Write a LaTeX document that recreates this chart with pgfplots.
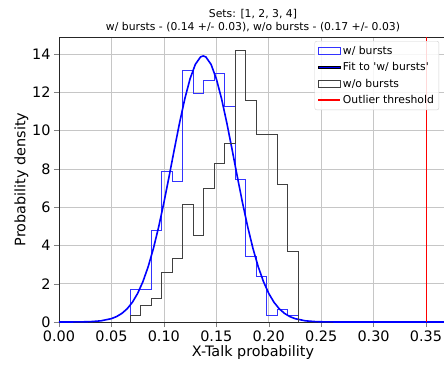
\documentclass[border=0pt]{standalone}
\usepackage{pgfplots}
\pgfplotsset{compat=1.18}
\usepackage{fontspec}
\setmainfont{DejaVu Sans}
\begin{document}
\begin{tikzpicture}
\begin{axis}[
  scale only axis,
  width=388pt, height=285pt,
  xmin=0, xmax=0.37, ymin=0, ymax=14.89,
  xtick={0,0.05,0.1,0.15,0.2,0.25,0.3,0.35},
  ytick={0,2,4,6,8,10,12,14},
  xticklabel style={/pgf/number format/.cd,fixed,fixed zerofill,precision=2},
  /pgf/number format/assume math mode=true,
  tick label style={font=\fontsize{14.4}{16}\selectfont},
  label style={font=\fontsize{14.4}{16}\selectfont},
  xlabel={X-Talk probability},
  ylabel={Probability density},
  xlabel style={yshift=3pt},
  ylabel style={yshift=-3pt},
  grid=major,
  grid style={gray!45, line width=0.7pt},
  tick align=outside, tick pos=left,
  major tick length=5pt,
  axis line style={black!85, line width=0.8pt},
  title style={font=\fontsize{10.8}{13}\selectfont, align=center, yshift=-4pt},
  title={Sets: [1, 2, 3, 4]\\w/ bursts - (0.14 +/- 0.03), w/o bursts - (0.17 +/- 0.03)},
  legend style={at={(axis cs:0.3625,14.68)}, anchor=north east,
    font=\fontsize{10.8}{13}\selectfont, draw=gray!35, rounded corners=2pt,
    fill=white, fill opacity=0.85, text opacity=1, draw opacity=1, row sep=2.6pt,
    inner sep=3pt},
  legend cell align=left,
]
\addlegendimage{legend image code/.code={\draw[draw=blue!80,line width=0.9pt,sharp corners] (0pt,-3.5pt) rectangle (22pt,3.5pt);}}
\addlegendentry{w/ bursts}
\addlegendimage{legend image code/.code={\fill[fill=blue,fill opacity=1,sharp corners] (0pt,-0.9pt) rectangle (22pt,0.9pt);}}
\addlegendentry{Fit to \textquotesingle w/ bursts\textquotesingle}
\addlegendimage{legend image code/.code={\draw[draw=black!75,line width=0.9pt,sharp corners] (0pt,-3.5pt) rectangle (22pt,3.5pt);}}
\addlegendentry{w/o bursts}
\addlegendimage{legend image code/.code={\draw[draw=red,line width=1.2pt,sharp corners] (0pt,0pt) -- (22pt,0pt);}}
\addlegendentry{Outlier threshold}
\addplot[forget plot, const plot mark left, draw=blue!80, line width=0.9pt, fill=none] coordinates {
(0.0677,0) (0.0677,1.71) (0.0777,1.71) (0.0878,4.77) (0.0978,7.85) (0.1078,7.33)
(0.1179,13.15) (0.1279,11.96) (0.1379,12.63) (0.1479,12.99) (0.1580,11.25)
(0.1680,7.47) (0.1780,3.41) (0.1881,2.37) (0.1981,0.33) (0.2081,0.66)
(0.2182,0.33) (0.2282,0)};
\addplot[forget plot, draw=blue, line width=1.6pt] coordinates {
(0.000,0.0003) (0.010,0.0013) (0.020,0.0053) (0.030,0.019) (0.040,0.061)
(0.050,0.176) (0.055,0.286) (0.060,0.451) (0.065,0.692) (0.070,1.031)
(0.075,1.495) (0.080,2.106) (0.085,2.883) (0.090,3.835) (0.095,4.958)
(0.100,6.229) (0.105,7.606) (0.110,9.027) (0.115,10.41) (0.120,11.67)
(0.125,12.71) (0.130,13.46) (0.135,13.85) (0.1375,13.9) (0.140,13.85)
(0.145,13.46) (0.150,12.71) (0.155,11.67) (0.160,10.41) (0.165,9.027)
(0.170,7.606) (0.175,6.229) (0.180,4.958) (0.185,3.835) (0.190,2.883)
(0.195,2.106) (0.200,1.495) (0.205,1.031) (0.210,0.692) (0.215,0.451)
(0.220,0.286) (0.225,0.176) (0.235,0.061) (0.245,0.019) (0.255,0.0053)
(0.265,0.0013) (0.275,0.0003) (0.300,0) (0.330,0) (0.370,0)};
\addplot[forget plot, const plot mark left, draw=black!75, line width=0.9pt, fill=none] coordinates {
(0.0677,0) (0.0677,0.33) (0.0777,0.85) (0.0878,1.24) (0.0978,2.58) (0.1078,3.31)
(0.1179,6.13) (0.1279,4.53) (0.1379,7.00) (0.1479,8.27) (0.1580,9.32)
(0.1680,14.19) (0.1780,11.56) (0.1881,9.82) (0.1981,9.82) (0.2081,7.18)
(0.2182,3.71) (0.2282,0)};
\addplot[forget plot, draw=red, line width=1pt] coordinates {(0.35,0) (0.35,14.89)};
\end{axis}
\pgfresetboundingbox
\path[use as bounding box] ([shift={(-59pt,-42pt)}]current axis.south west) rectangle ([shift={(385pt,322pt)}]current axis.south west);
\end{tikzpicture}
\end{document}
